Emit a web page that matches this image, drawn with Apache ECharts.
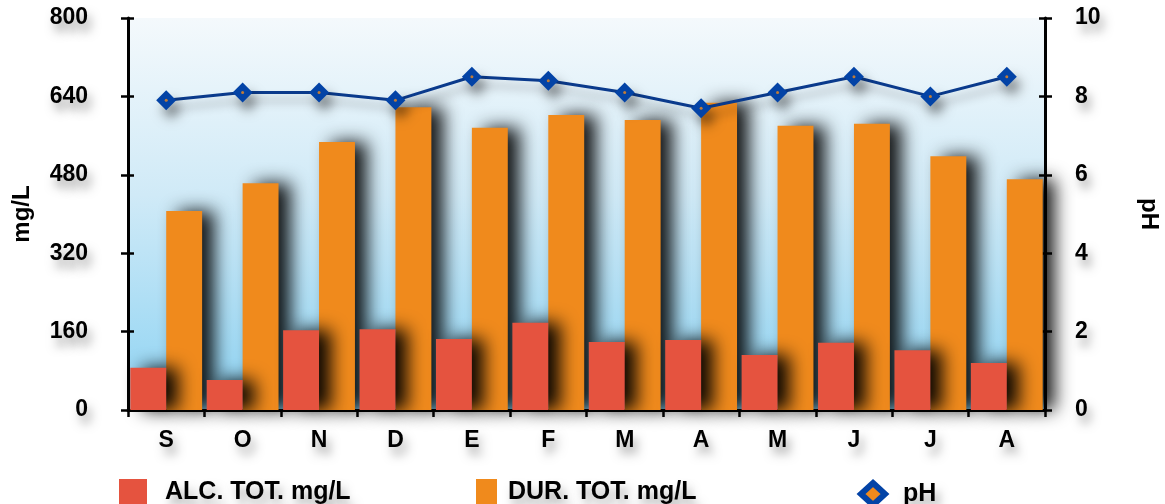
<!DOCTYPE html>
<html>
<head>
<meta charset="utf-8">
<script src="https://cdn.jsdelivr.net/npm/echarts@6/dist/echarts.min.js"></script>
<style>
  html, body { margin: 0; padding: 0; background: #ffffff; }
  #chart { width: 1165px; height: 504px; }
</style>
</head>
<body>
<div id="chart"></div>
<script>
// Monthly water quality: alkalinity, hardness (mg/L) and pH
const months = ['S', 'O', 'N', 'D', 'E', 'F', 'M', 'A', 'M', 'J', 'J', 'A'];
const alcTot = [86, 61, 163, 165, 145, 178, 139, 143, 112, 137, 122, 96];
const durTot = [406, 463, 547, 618, 576, 602, 592, 627, 580, 584, 518, 471];
const phValues = [7.9, 8.1, 8.1, 7.9, 8.5, 8.4, 8.1, 7.7, 8.1, 8.5, 8.0, 8.5];
const mgTicks = [0, 160, 320, 480, 640, 800];
const phTicks = [0, 2, 4, 6, 8, 10];

const FONT = '"Liberation Sans", Arial, sans-serif';
const RED = '#e5533f';
const ORANGE = '#f08a1c';
const BLUE = '#0343a6';
const LINE = '#0a3a8c';

const textShadow = {
  textShadowColor: 'rgba(0,0,0,0.35)',
  textShadowBlur: 10,
  textShadowOffsetX: 4,
  textShadowOffsetY: 8
};

const labelStyle = Object.assign({
  color: '#000', fontFamily: FONT, fontWeight: 'bold', fontSize: 23
}, textShadow);

const chart = echarts.init(document.getElementById('chart'), null, { renderer: 'canvas' });

function legendBlock(left, item, gap, extra) {
  return Object.assign({
    left: left,
    top: 474,
    itemWidth: 28,
    itemHeight: 27,
    data: [item],
    textStyle: Object.assign({
      color: '#000', fontFamily: FONT, fontWeight: 'bold', fontSize: 25, padding: [0, 0, 0, gap]
    }, textShadow)
  }, extra || {});
}

const option = {
  backgroundColor: '#ffffff',
  animation: false,
  grid: {
    left: 128, right: 120, top: 18, bottom: 94,
    outerBoundsMode: 'none',
    containLabel: false,
    show: true,
    borderWidth: 0,
    backgroundColor: {
      type: 'linear', x: 0, y: 0, x2: 0, y2: 1,
      colorStops: [
        { offset: 0, color: '#f4f9fc' },
        { offset: 0.45, color: '#d0eaf7' },
        { offset: 1, color: '#8dd3f3' }
      ]
    }
  },
  legend: [
    legendBlock(114, { name: 'ALC. TOT. mg/L', icon: 'rect' }, 13),
    legendBlock(471, { name: 'DUR. TOT. mg/L', icon: 'rect' }, 6, { itemWidth: 21 }),
    legendBlock(853, {
      name: 'pH',
      icon: 'diamond',
      itemStyle: { color: ORANGE, borderColor: BLUE, borderWidth: 6 }
    }, 13, { itemWidth: 24, itemHeight: 22, top: 475 })
  ],
  xAxis: [{
    type: 'category',
    data: months,
    axisLine: { show: true, lineStyle: { color: '#000', width: 3 } },
    axisTick: { show: true, length: 7, lineStyle: { color: '#000', width: 2.5 } },
    axisLabel: Object.assign({}, labelStyle, { fontSize: 23, margin: 19 }),
    splitLine: { show: false }
  }],
  yAxis: [{
    type: 'value',
    min: 0, max: 800, interval: 160,
    position: 'left',
    name: 'mg/L',
    nameLocation: 'middle',
    nameGap: 94,
    nameRotate: 90,
    nameTextStyle: { color: '#000', fontFamily: FONT, fontWeight: 'bold', fontSize: 24 },
    axisLine: { show: true, lineStyle: { color: '#000', width: 3 } },
    axisTick: { show: true, length: 7, lineStyle: { color: '#000', width: 2.5 } },
    axisLabel: Object.assign({}, labelStyle, {
      margin: 40,
      formatter: v => mgTicks.includes(v) ? String(v) : ''
    }),
    splitLine: { show: false }
  }, {
    type: 'value',
    min: 0, max: 10, interval: 2,
    position: 'right',
    name: 'pH',
    nameLocation: 'middle',
    nameGap: 92,
    nameRotate: -90,
    nameTextStyle: { color: '#000', fontFamily: FONT, fontWeight: 'bold', fontSize: 24 },
    axisLine: { show: true, lineStyle: { color: '#000', width: 3 } },
    axisTick: { show: true, length: 7, lineStyle: { color: '#000', width: 2.5 } },
    axisLabel: Object.assign({}, labelStyle, {
      margin: 30,
      formatter: v => phTicks.includes(v) ? String(v) : ''
    }),
    splitLine: { show: false }
  }, {
    // inner halves of the left tick marks
    type: 'value', min: 0, max: 800, interval: 160, position: 'left',
    axisLine: { show: false },
    axisTick: { show: true, inside: true, length: 6, lineStyle: { color: '#000', width: 2.5 } },
    axisLabel: { show: false }, splitLine: { show: false }
  }, {
    // inner halves of the right tick marks
    type: 'value', min: 0, max: 10, interval: 2, position: 'right',
    axisLine: { show: false },
    axisTick: { show: true, inside: true, length: 6, lineStyle: { color: '#000', width: 2.5 } },
    axisLabel: { show: false }, splitLine: { show: false }
  }],
  series: [{
    name: 'ALC. TOT. mg/L',
    type: 'bar',
    data: alcTot,
    yAxisIndex: 0,
    z: 3,
    barGap: '0%',
    barCategoryGap: '6%',
    itemStyle: {
      color: RED,
      shadowColor: 'rgba(0,0,0,0.95)',
      shadowBlur: 18,
      shadowOffsetX: 12,
      shadowOffsetY: 0
    }
  }, {
    name: 'DUR. TOT. mg/L',
    type: 'bar',
    data: durTot,
    yAxisIndex: 0,
    z: 2,
    itemStyle: {
      color: ORANGE,
      shadowColor: 'rgba(0,0,0,0.9)',
      shadowBlur: 18,
      shadowOffsetX: 12,
      shadowOffsetY: 0
    }
  }, {
    name: 'pH',
    type: 'line',
    data: phValues,
    yAxisIndex: 1,
    z: 5,
    symbol: 'diamond',
    symbolSize: 20,
    lineStyle: {
      color: LINE, width: 3,
      shadowColor: 'rgba(0,0,0,0.3)', shadowBlur: 10, shadowOffsetX: 4, shadowOffsetY: 8
    },
    itemStyle: {
      color: BLUE,
      shadowColor: 'rgba(0,0,0,0.45)', shadowBlur: 12, shadowOffsetX: 5, shadowOffsetY: 9
    }
  }, {
    // small orange centre dot on each pH marker
    name: 'pH',
    type: 'scatter',
    data: phValues,
    yAxisIndex: 1,
    z: 6,
    symbol: 'circle',
    symbolSize: 3,
    itemStyle: { color: ORANGE },
    silent: true
  }]
};

chart.setOption(option);
</script>
</body>
</html>
